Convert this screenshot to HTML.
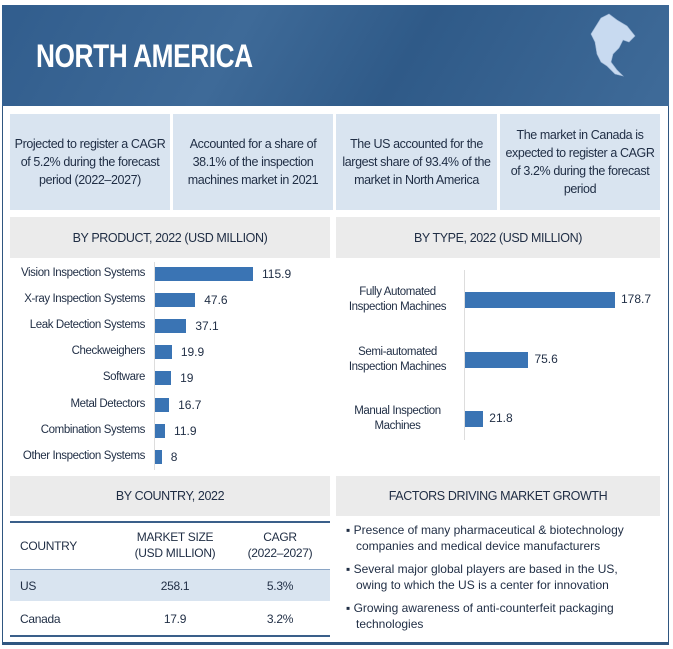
<!DOCTYPE html>
<html><head><meta charset="utf-8"><style>
*{box-sizing:border-box;margin:0;padding:0}
body{width:673px;height:649px;background:#fff;font-family:"Liberation Sans",sans-serif;color:#1f2d44;position:relative;overflow:hidden}
.abs{position:absolute}
.frame{left:2px;top:5px;width:667px;height:640px;border:1px solid #2f5680;border-bottom:3px solid #2f5680}
.banner{left:2px;top:5px;width:667px;height:101px;background:linear-gradient(120deg,#315d8d 0%,#3e6a98 35%,#2f5a88 60%,#3f6b99 100%)}
.title{left:36px;top:38px;color:#fff;font-weight:bold;font-size:32px;letter-spacing:-0.5px;transform:scaleX(0.82);transform-origin:left;white-space:nowrap}
.card{top:114px;height:96px;background:#d9e4f0;font-size:12.5px;letter-spacing:-0.4px;text-align:center;display:flex;align-items:center;justify-content:center;line-height:18px;padding:0 4px;color:#1f2d44}
.hdr{background:#ebebeb;font-size:12.5px;letter-spacing:-0.4px;display:flex;align-items:center;justify-content:center;color:#1f2d44}
.lbl{font-size:11.5px;letter-spacing:-0.4px;text-align:right;width:141px;left:4px;white-space:nowrap}
.val{font-size:12px}
.bar{background:#3a74b4}
.tl{font-size:12px;letter-spacing:-0.3px}
ul{list-style:none}
</style></head><body>
<div class="abs frame"></div>
<div class="abs banner"></div>
<div class="abs title">NORTH AMERICA</div>
<svg class="abs" style="left:583px;top:12px" width="55" height="80"><path d="M18 6 L26 2 L34 8 L44 14 L52 24 L46 30 L40 28 L36 36 L30 42 L28 50 L34 58 L40 64 L32 62 L24 54 L18 50 L14 42 L12 30 L8 22 Z" fill="#c8daf0" stroke="#9fb8d6" stroke-width="0.6"/></svg>

<div class="abs card" style="left:10px;width:160px">Projected to register a CAGR of 5.2% during the forecast period (2022–2027)</div>
<div class="abs card" style="left:173px;width:160px">Accounted for a share of 38.1% of the inspection machines market in 2021</div>
<div class="abs card" style="left:336px;width:161px">The US accounted for the largest share of 93.4% of the market in North America</div>
<div class="abs card" style="left:500px;width:160px">The market in Canada is expected to register a CAGR of 3.2% during the forecast period</div>

<div class="abs hdr" style="left:10px;top:217px;width:320px;height:41px">BY PRODUCT, 2022 (USD MILLION)</div>
<div class="abs hdr" style="left:336px;top:217px;width:324px;height:41px">BY TYPE, 2022 (USD MILLION)</div>
<div id="prod"></div>
<div id="type"></div>

<div class="abs hdr" style="left:10px;top:476px;width:320px;height:40px">BY COUNTRY, 2022</div>
<div class="abs hdr" style="left:336px;top:476px;width:324px;height:40px">FACTORS DRIVING MARKET GROWTH</div>

<div class="abs" style="left:10px;top:521px;width:320px;height:2px;background:#3a5f8a"></div>
<div class="abs tl" style="left:20px;top:539px">COUNTRY</div>
<div class="abs tl" style="left:125px;top:529px;width:100px;text-align:center;line-height:16px">MARKET SIZE<br>(USD MILLION)</div>
<div class="abs tl" style="left:235px;top:529px;width:90px;text-align:center;line-height:16px">CAGR<br>(2022–2027)</div>
<div class="abs" style="left:10px;top:569px;width:320px;height:32px;background:#d9e4f0;border-top:1px solid #8aa5c5"></div>
<div class="abs tl" style="left:20px;top:579px">US</div>
<div class="abs tl" style="left:125px;top:579px;width:100px;text-align:center">258.1</div>
<div class="abs tl" style="left:235px;top:579px;width:90px;text-align:center">5.3%</div>
<div class="abs tl" style="left:20px;top:612px">Canada</div>
<div class="abs tl" style="left:125px;top:612px;width:100px;text-align:center">17.9</div>
<div class="abs tl" style="left:235px;top:612px;width:90px;text-align:center">3.2%</div>
<div class="abs" style="left:10px;top:635px;width:320px;height:2px;background:#3a5f8a"></div>

<ul class="abs" style="left:346px;top:523px;width:320px;font-size:12px;line-height:15.5px;color:#1f2d44">
<li style="margin-bottom:8px">▪ Presence of many pharmaceutical &amp; biotechnology<br>&nbsp;&nbsp;&nbsp;companies and medical device manufacturers</li>
<li style="margin-bottom:8px">▪ Several major global players are based in the US,<br>&nbsp;&nbsp;&nbsp;owing to which the US is a center for innovation</li>
<li>▪ Growing awareness of anti-counterfeit packaging<br>&nbsp;&nbsp;&nbsp;technologies</li>
</ul>

<script>
const productCats=["Vision Inspection Systems","X-ray Inspection Systems","Leak Detection Systems","Checkweighers","Software","Metal Detectors","Combination Systems","Other Inspection Systems"];
const productVals=[115.9,47.6,37.1,19.9,19,16.7,11.9,8];
const typeCats=["Fully Automated|Inspection Machines","Semi-automated|Inspection Machines","Manual Inspection|Machines"];
const typeVals=[178.7,75.6,21.8];

function px(v,scale){return v*scale;}
function mk(parent,cls,style,name,text){
  const e=document.createElement('div');
  e.className='abs '+cls;e.style.cssText=style;
  
  
  if(text!==undefined)e.innerHTML=text;
  parent.appendChild(e);return e;
}
const prod=document.getElementById('prod');
const pAxis=document.createElement('div');
pAxis.className='abs';pAxis.style.cssText='left:154px;top:262px;width:1px;height:208px;background:#ddd';


prod.appendChild(pAxis);
productCats.forEach((c,i)=>{
  const cy=274+i*26.1;const w=px(productVals[i],98/115.9);
  mk(prod,'lbl',`top:${cy-7}px`,'product-label',c);
  mk(prod,'bar',`left:155px;top:${cy-7}px;width:${w}px;height:14px`,'product-bar');
  mk(prod,'val',`left:${155+w+9}px;top:${cy-7}px`,'product-value',productVals[i]);
});
const typ=document.getElementById('type');
const tAxis=document.createElement('div');
tAxis.className='abs';tAxis.style.cssText='left:464px;top:270px;width:1px;height:170px;background:#ddd';


typ.appendChild(tAxis);
typeCats.forEach((c,i)=>{
  const cy=300+i*59.5;const w=px(typeVals[i],150/178.7);
  mk(typ,'lbl',`left:340px;width:115px;text-align:center;top:${cy-15}px;line-height:15px`,'type-label',c.replace('|','<br>'));
  mk(typ,'bar',`left:465px;top:${cy-8}px;width:${w}px;height:16px`,'type-bar');
  mk(typ,'val',`left:${465+w+6}px;top:${cy-8}px`,'type-value',typeVals[i]);
});
</script>
</body></html>
